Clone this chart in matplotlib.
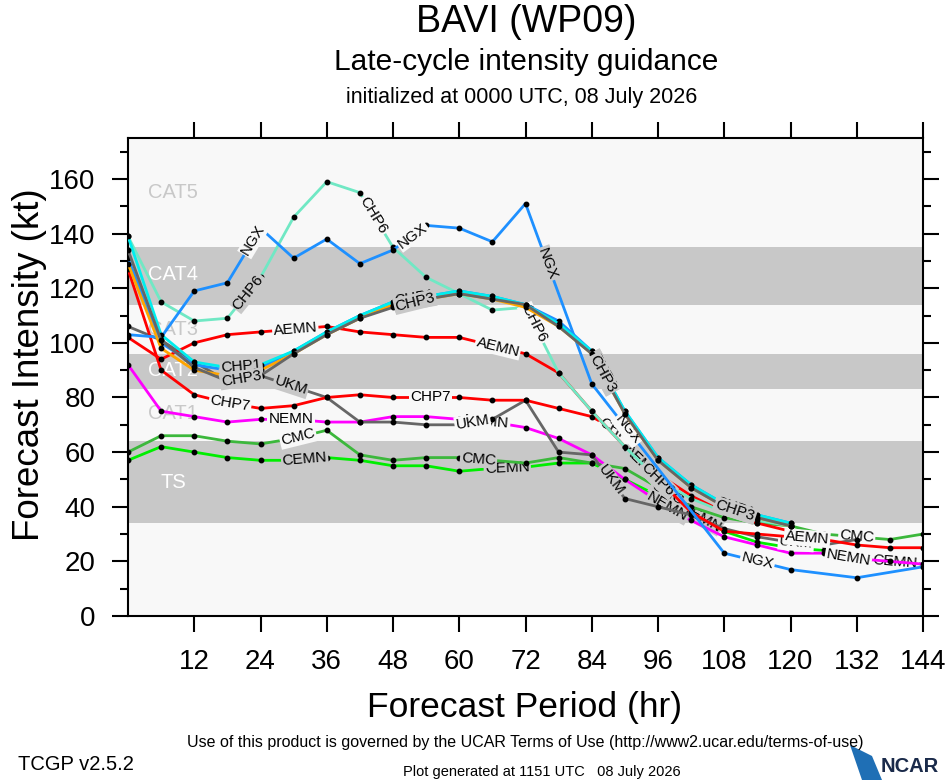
import numpy as np
import matplotlib
matplotlib.use('Agg')
import matplotlib.pyplot as plt
from matplotlib.patches import Polygon

plt.rcParams['font.family'] = ['Liberation Sans', 'DejaVu Sans']

# ---------------- data ----------------
hours = list(range(0, 145, 6))

NGX  = [103, 102, 119, 122, 142, 131, 138, 129, 134, 143, 142, 137, 151, None, 85, None, None, None, 23, None, 17, None, 14, None, 18]
CHP6 = [139, 115, 108, 109, 124, 146, 159, 155, 135, 124, 118, 112, 113, 89, 75, 62, 50, 43, 38, 35, 33, None, None, None, None]
AEMN = [102, 94, 100, 103, 104, 105, 106, 104, 103, 102, 102, 99, 96, 89, 75, 62, 50, 38, 31, 30, 29, 28, 26, 25, 25]
CHP7 = [127, 90, 81, 78, 76, 77, 80, 81, 80, 80, 80, 79, 79, 76, 73, 66, 52, 44, 38, 34, 31, None, None, None, None]
NEMN = [92, 75, 73, 71, 72, 72, 71, 71, 73, 73, 72, 71, 69, 65, 59, 50, 42, 35, 29, 26, 23, 23, 21, 20, 19]
UKM  = [106, 101, 93, 86, 88, 84, 80, 71, 71, 70, 70, 72, 79, 60, 59, 43, 40, 37, 32, 29, 27, 26, 28, None, None]
CMC  = [60, 66, 66, 64, 63, 65, 68, 59, 57, 58, 58, 57, 56, 58, 56, 54, 47, 40, 36, 34, 33, 30, 29, 28, 30]
CEMN = [57, 62, 60, 58, 57, 57, 58, 57, 55, 55, 53, 54, 54.5, 56, 56, 50, 44, 38, 31, 27, 25, 24, 21, 20, 19]
CHP1 = [139, 103, 93, 91, 92, 97, 104, 110, 115, 117, 119, 117, 114, 107, 97, 75, 58, 48, 41, 37, 34, None, None, None, None]
CHP2 = [129, 98, 90, 88, 90, 96, 103, 109, 114, 116, 118, 116, 113, 106, 96, 74, 57, 47, 40, 36, 33, None, None, None, None]
CHP3 = [134, 101, 91, 86, 88, 96, 103, 109, 113, 116, 118, 116, 114, 106, 96, 74, 57, 47, 40, 36, 33, None, None, None, None]
CHP4 = [131, 100, 92, 90, 91, 97, 104, 110, 115, 117, 119, 117, 114, 108, 97, 75, 58, 48, 41, 37, 34, None, None, None, None]

# label positions (forecast hour) along each line
lab_NGX  = [22.7, 51.5, 76.0, 90.5, 114]
lab_CHP6 = [21.8, 44.5, 73.5, 96]
lab_AEMN = [30.3, 67, 93, 123]
lab_CHP7 = [18.5, 54.8, 88.7]
lab_NEMN = [29.5, 65, 97.7, 130.5]
lab_UKM  = [29.5, 62.4, 87.5, 121]
lab_CMC  = [30.8, 63.5, 97.7, 132]
lab_CEMN = [32, 68.7, 103.7, 139]
lab_CHP  = [20.5, 52, 86, 110]

bands = [(34, 64, 'TS'), (64, 83, 'CAT1'), (83, 96, 'CAT2'), (96, 114, 'CAT3'),
         (114, 135, 'CAT4'), (135, 175, 'CAT5')]
band_label_y = {'TS': 49, 'CAT1': 74, 'CAT2': 90, 'CAT3': 105, 'CAT4': 125, 'CAT5': 155}
shaded = ['TS', 'CAT2', 'CAT4']

xticks = list(range(12, 145, 12))
yticks = list(range(0, 161, 20))

LIGHT = '#f8f8f8'
GRAY = '#c8c8c8'

# ---------------- figure ----------------
fig = plt.figure(figsize=(9.46, 7.80), dpi=100)
ax = fig.add_axes([128 / 946, 164 / 780, 795 / 946, 478 / 780])
ax.set_xlim(0, 144)
ax.set_ylim(0, 175)
ax.set_facecolor(LIGHT)

for lo, hi, name in bands:
    if name in shaded:
        ax.axhspan(lo, hi, color=GRAY, zorder=0.5, lw=0)
    col = 'white' if name in shaded else GRAY
    ax.text(8.2, band_label_y[name], name, color=col, fontsize=14.5,
            ha='center', va='center', zorder=0.6)


def band_color(v):
    for lo, hi, name in bands:
        if lo <= v < hi:
            return GRAY if name in shaded else LIGHT
    return LIGHT


series = [
    ('CEMN', CEMN, '#00ee00', lab_CEMN),
    ('CMC', CMC, '#3cb83c', lab_CMC),
    ('NEMN', NEMN, '#ff00ff', lab_NEMN),
    ('UKM', UKM, '#666666', lab_UKM),
    ('CHP7', CHP7, '#ff0000', lab_CHP7),
    ('AEMN', AEMN, '#ff0000', lab_AEMN),
    ('CHP6', CHP6, '#70e8c4', lab_CHP6),
    ('NGX', NGX, '#1e90ff', lab_NGX),
    ('CHP4', CHP4, '#1e90ff', lab_CHP),
    ('CHP2', CHP2, '#ffa500', lab_CHP),
    ('CHP1', CHP1, '#00eeee', lab_CHP),
    ('CHP3', CHP3, '#666666', lab_CHP),
]

fig.canvas.draw()
for i, (name, vals, col, labs) in enumerate(series):
    h = np.array([hh for hh, v in zip(hours, vals) if v is not None], float)
    v = np.array([v for v in vals if v is not None], float)
    z = 2 + i
    ax.plot(h, v, color=col, lw=2.0, zorder=z, solid_capstyle='round')
    ax.plot(h, v, 'o', color='black', ms=3.2, zorder=z + 0.1)
    for lh in labs:
        y = np.interp(lh, h, v)
        k = int(np.clip(np.searchsorted(h, lh), 1, len(h) - 1))
        p0 = ax.transData.transform((h[k - 1], v[k - 1]))
        p1 = ax.transData.transform((h[k], v[k]))
        ang = np.degrees(np.arctan2(p1[1] - p0[1], p1[0] - p0[0]))
        ax.text(lh, y, name, rotation=ang, rotation_mode='anchor', ha='center',
                va='center', fontsize=11, color='black', zorder=z + 0.2,
                bbox=dict(boxstyle='square,pad=0.08', fc=band_color(y), ec='none'))

# ---------------- axes styling ----------------
ax.set_xticks(xticks)
ax.set_xticklabels([str(t) for t in xticks])
ax.set_yticks(yticks)
ax.set_yticks(list(range(10, 171, 20)), minor=True)
ax.tick_params(axis='x', which='major', direction='out', length=11.5, width=1.5,
               top=True, labelsize=20, pad=12)
ax.tick_params(axis='y', which='major', direction='out', length=11.5, width=1.5,
               right=True, labelsize=20, pad=12)
ax.tick_params(axis='y', which='minor', direction='out', length=5.8, width=1.5,
               right=True)
for s in ax.spines.values():
    s.set_linewidth(1.5)

# ---------------- text ----------------
fig.text(526 / 946, 1 - 22 / 780, 'BAVI (WP09)', fontsize=27, ha='center', va='center')
fig.text(526 / 946, 1 - 62 / 780, 'Late-cycle intensity guidance', fontsize=21.5,
         ha='center', va='center')
fig.text(522 / 946, 1 - 98 / 780, 'initialized at 0000 UTC, 08 July 2026', fontsize=15.5,
         ha='center', va='center')
fig.text(30 / 946, 1 - 365 / 780, 'Forecast Intensity (kt)', fontsize=26.5, rotation=90,
         ha='center', va='center')
fig.text(525 / 946, 1 - 707 / 780, 'Forecast Period (hr)', fontsize=25.5,
         ha='center', va='center')

narrow = ['Liberation Sans Narrow', 'Liberation Sans', 'DejaVu Sans']
fig.text(525 / 946, 1 - 742 / 780,
         'Use of this product is governed by the UCAR Terms of Use (http://www2.ucar.edu/terms-of-use)',
         fontsize=11.5, ha='center', va='center', family=narrow)
fig.text(18 / 946, 1 - 765 / 780, 'TCGP v2.5.2', fontsize=14.5, ha='left', va='center',
         family=narrow)
fig.text(542 / 946, 1 - 772 / 780, 'Plot generated at 1151 UTC   08 July 2026', fontsize=10.5,
         ha='center', va='center', family=narrow)

# NCAR logo
fig.patches.append(Polygon([[850 / 946, 1 - 745 / 780], [872 / 946, 1 - 756 / 780],
                            [882 / 946, 1 - 780 / 780], [862 / 946, 1 - 780 / 780]],
                           closed=True, transform=fig.transFigure, fc='#1f6fb5', ec='none'))
fig.text(910 / 946, 1 - 767 / 780, 'NCAR', fontsize=14.5, fontweight='bold', color='#1a2a4a',
         ha='center', va='center', family=narrow)

fig.savefig('out.png', dpi=100, facecolor='white')
